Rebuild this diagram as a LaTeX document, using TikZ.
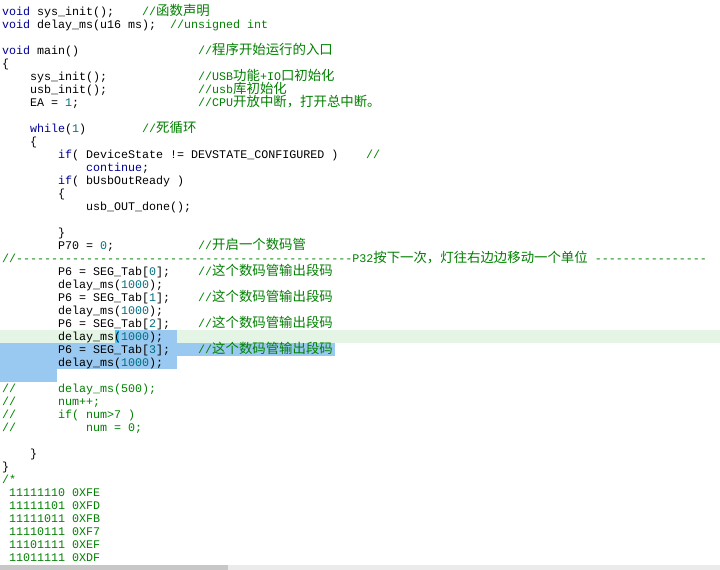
\documentclass[tikz,border=0pt]{standalone}
\usepackage{fontspec}
\newfontfamily\codef{Liberation Mono}
\newfontfamily\cjk{Noto Sans CJK SC}
\definecolor{kwc}{RGB}{0,0,150}
\definecolor{cmc}{RGB}{0,128,0}
\definecolor{nmc}{RGB}{0,110,128}
\definecolor{selc}{RGB}{153,201,240}
\definecolor{linec}{RGB}{228,245,230}
\newcommand\kw[1]{\textcolor{kwc}{#1}}
\newcommand\nm[1]{\textcolor{nmc}{#1}}
\newcommand\cj[1]{{\cjk\fontsize{13.4}{13}\selectfont #1}}
\newcommand\codeat[4]{\node[txt] (#1) at ({2+7*(#3)},{15+13*(#2)}) {#4};}
\newcommand\cmat[4]{\node[txt,text=cmc] (#1) at ({2+7*(#3)},{15+13*(#2)}) {#4};}
\begin{document}
\begin{tikzpicture}[x=1pt,y=-1pt,
  txt/.style={anchor=base west,inner sep=0pt,font=\codef\fontsize{11.67}{13}\selectfont,text=black}]
\useasboundingbox (0,0) rectangle (720,570);
\clip (0,0) rectangle (720,570);
\fill[white] (0,0) rectangle (720,570);
% highlights
\fill[linec] (0,330) rectangle (720,343);
\fill[selc] (118,330) rectangle (177,343);
\fill[selc] (0,343) rectangle (335,356);
\fill[selc] (0,356) rectangle (177,369);
\fill[selc] (0,369) rectangle (57,382);
\fill[cyan!70] (115,330) rectangle (119,343);
% scrollbar
\fill[black!8] (0,565) rectangle (720,570);
\fill[black!22] (0,565) rectangle (228,570);
% code
\codeat{a0}{0}{0}{\kw{void} sys\_init();}
\cmat{c0}{0}{20}{//\cj{函数声明}}
\codeat{a1}{1}{0}{\kw{void} delay\_ms(u16 ms);}
\cmat{c1}{1}{24}{//unsigned int}
\codeat{a3}{3}{0}{\kw{void} main()}
\cmat{c3}{3}{28}{//\cj{程序开始运行的入口}}
\codeat{a4}{4}{0}{\{}
\codeat{a5}{5}{4}{sys\_init();}
\cmat{c5}{5}{28}{//USB\cj{功能}+IO\cj{口初始化}}
\codeat{a6}{6}{4}{usb\_init();}
\cmat{c6}{6}{28}{//usb\cj{库初始化}}
\codeat{a7}{7}{4}{EA = \nm{1};}
\cmat{c7}{7}{28}{//CPU\cj{开放中断，打开总中断。}}
\codeat{a9}{9}{4}{\kw{while}(\nm{1})}
\cmat{c9}{9}{20}{//\cj{死循环}}
\codeat{a10}{10}{4}{\{}
\codeat{a11}{11}{8}{\kw{if}( DeviceState != DEVSTATE\_CONFIGURED )}
\cmat{c11}{11}{52}{//}
\codeat{a12}{12}{12}{\kw{continue};}
\codeat{a13}{13}{8}{\kw{if}( bUsbOutReady )}
\codeat{a14}{14}{8}{\{}
\codeat{a15}{15}{12}{usb\_OUT\_done();}
\codeat{a17}{17}{8}{\}}
\codeat{a18}{18}{8}{P70 = \nm{0};}
\cmat{c18}{18}{28}{//\cj{开启一个数码管}}
\cmat{c19}{19}{0}{//------------------------------------------------P32\cj{按下一次，灯往右边边移动一个单位} ----------------}
\codeat{a20}{20}{8}{P6 = SEG\_Tab[\nm{0}];}
\cmat{c20}{20}{28}{//\cj{这个数码管输出段码}}
\codeat{a21}{21}{8}{delay\_ms(\nm{1000});}
\codeat{a22}{22}{8}{P6 = SEG\_Tab[\nm{1}];}
\cmat{c22}{22}{28}{//\cj{这个数码管输出段码}}
\codeat{a23}{23}{8}{delay\_ms(\nm{1000});}
\codeat{a24}{24}{8}{P6 = SEG\_Tab[\nm{2}];}
\cmat{c24}{24}{28}{//\cj{这个数码管输出段码}}
\codeat{a25}{25}{8}{delay\_ms(\nm{1000});}
\codeat{a26}{26}{8}{P6 = SEG\_Tab[\nm{3}];}
\cmat{c26}{26}{28}{//\cj{这个数码管输出段码}}
\codeat{a27}{27}{8}{delay\_ms(\nm{1000});}
\cmat{b29}{29}{0}{//}
\cmat{a29}{29}{8}{delay\_ms(500);}
\cmat{b30}{30}{0}{//}
\cmat{a30}{30}{8}{num++;}
\cmat{b31}{31}{0}{//}
\cmat{a31}{31}{8}{if( num>7 )}
\cmat{b32}{32}{0}{//}
\cmat{a32}{32}{12}{num = 0;}
\codeat{a34}{34}{4}{\}}
\codeat{a35}{35}{0}{\}}
\cmat{a36}{36}{0}{/*}
\cmat{a37}{37}{1}{11111110 0XFE}
\cmat{a38}{38}{1}{11111101 0XFD}
\cmat{a39}{39}{1}{11111011 0XFB}
\cmat{a40}{40}{1}{11110111 0XF7}
\cmat{a41}{41}{1}{11101111 0XEF}
\cmat{a42}{42}{1}{11011111 0XDF}
\end{tikzpicture}
\end{document}
